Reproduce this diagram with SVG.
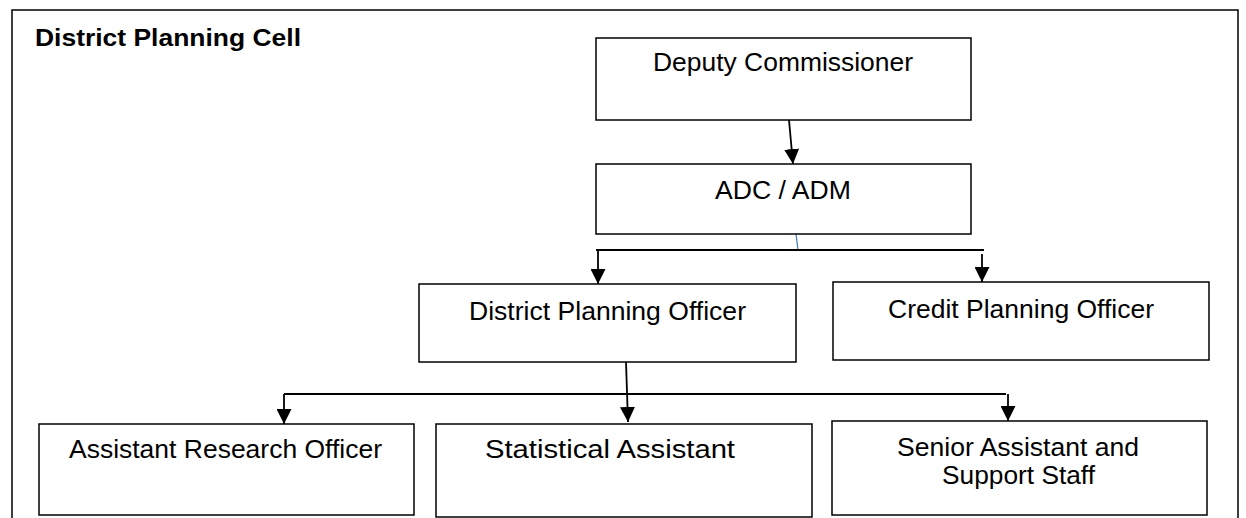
<svg xmlns="http://www.w3.org/2000/svg" width="1246" height="518" viewBox="0 0 1246 518">
  <style>
    .box { fill: #ffffff; stroke: #000000; stroke-width: 1.5; }
    .lbl { font-family: "Liberation Sans", Arial, sans-serif; font-size: 25.5px; fill: #000000; text-anchor: middle; }
    .title { font-family: "Liberation Sans", Arial, sans-serif; font-size: 23px; font-weight: bold; fill: #000000; }
    .edge { stroke: #000000; stroke-width: 1.8; fill: none; }
    .arr { marker-end: url(#head); }
  </style>
  <defs>
    <marker id="head" markerUnits="userSpaceOnUse" markerWidth="15" markerHeight="15" refX="15" refY="7.5" orient="auto">
      <path d="M0,0 L15,7.5 L0,15 z" fill="#000000"/>
    </marker>
  </defs>
  <rect width="1246" height="518" fill="#ffffff"/>

  <!-- frame, open at the bottom -->
  <path d="M12,518 V10 H1238 V518" fill="none" stroke="#000000" stroke-width="1.5"/>
  <text class="title" x="35" y="46" textLength="266" lengthAdjust="spacingAndGlyphs">District Planning Cell</text>

  <g id="connectors">
    <line class="edge arr" x1="789" y1="120" x2="793" y2="164"/>
    <line x1="796" y1="234" x2="798" y2="250" stroke="#4a7ebb" stroke-width="1.2"/>
    <line class="edge" x1="596" y1="250" x2="984" y2="250"/>
    <line class="edge arr" x1="598" y1="250" x2="598" y2="284"/>
    <line class="edge arr" x1="982" y1="254" x2="982" y2="282"/>
    <line class="edge arr" x1="626" y1="362" x2="628" y2="422"/>
    <line class="edge" x1="284" y1="394" x2="1006" y2="394"/>
    <line class="edge arr" x1="284" y1="394" x2="284" y2="424"/>
    <line class="edge arr" x1="1008" y1="394" x2="1008" y2="421"/>
  </g>

  <g id="deputy-commissioner">
    <rect class="box" x="596" y="38" width="375" height="82"/>
    <text class="lbl" x="783" y="71" textLength="260" lengthAdjust="spacingAndGlyphs">Deputy Commissioner</text>
  </g>

  <g id="adc-adm">
    <rect class="box" x="596" y="164" width="375" height="70"/>
    <text class="lbl" x="783" y="199" textLength="136" lengthAdjust="spacingAndGlyphs">ADC / ADM</text>
  </g>

  <g id="district-planning-officer">
    <rect class="box" x="419" y="284" width="377" height="78"/>
    <text class="lbl" x="607.5" y="320" textLength="277" lengthAdjust="spacingAndGlyphs">District Planning Officer</text>
  </g>

  <g id="credit-planning-officer">
    <rect class="box" x="833" y="282" width="376" height="78"/>
    <text class="lbl" x="1021" y="318" textLength="266" lengthAdjust="spacingAndGlyphs">Credit Planning Officer</text>
  </g>

  <g id="assistant-research-officer">
    <rect class="box" x="39" y="424" width="375" height="91"/>
    <text class="lbl" x="225.5" y="458" textLength="313" lengthAdjust="spacingAndGlyphs">Assistant Research Officer</text>
  </g>

  <g id="statistical-assistant">
    <rect class="box" x="436" y="424" width="376" height="93"/>
    <text class="lbl" x="610" y="458" textLength="250" lengthAdjust="spacingAndGlyphs">Statistical Assistant</text>
  </g>

  <g id="senior-assistant">
    <rect class="box" x="832" y="421" width="375" height="94"/>
    <text class="lbl" x="1018" y="456" textLength="242" lengthAdjust="spacingAndGlyphs">Senior Assistant and</text>
    <text class="lbl" x="1018.5" y="484" textLength="153" lengthAdjust="spacingAndGlyphs">Support Staff</text>
  </g>
</svg>
